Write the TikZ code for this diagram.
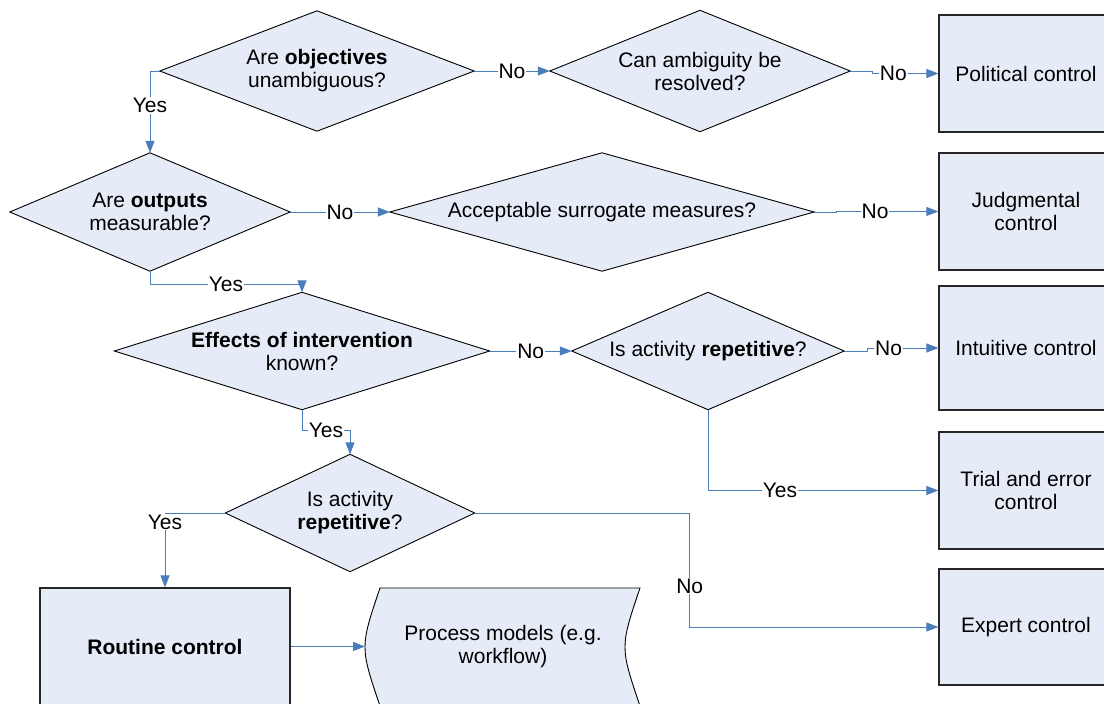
\documentclass[tikz,border=0pt]{standalone}
\usepackage{fontspec}
\setmainfont{Liberation Sans}
\usetikzlibrary{arrows.meta,backgrounds}
\definecolor{shapefill}{RGB}{230,236,247}
\definecolor{linkblue}{RGB}{74,126,187}
\begin{document}
\begin{tikzpicture}[x=1pt,y=-1pt,
  font=\fontsize{21}{23}\selectfont,
  txt/.style={align=center, inner sep=0pt},
  dshape/.style={draw=black, line width=0.9pt, fill=shapefill, line join=miter},
  ctrlbox/.style={draw=black!85, line width=1.2pt, fill=shapefill, align=center, inner sep=0pt, minimum width=174pt},
  link/.style={draw=linkblue, line width=1pt, -{Triangle[length=12pt,width=9pt]}},
  lbl/.style={fill=white, inner sep=1pt, text=black}]
\useasboundingbox (0,0) rectangle (1104,704);
\clip (0,0) rectangle (1104,704);

% decision texts (diamond anchors)
\node[txt, minimum width=314pt, minimum height=120pt] (d1) at (317,71) {Are \textbf{objectives}\\unambiguous?};
\node[txt, minimum width=300pt, minimum height=121pt] (d2) at (700,71) {Can ambiguity be\\resolved?};
\node[txt, minimum width=280pt, minimum height=118pt] (d3) at (150,212) {Are \textbf{outputs}\\measurable?};
\node[txt, minimum width=424pt, minimum height=118pt] (d4) at (602,212) {Acceptable surrogate measures?};
\node[txt, minimum width=375pt, minimum height=117pt] (d5) at (302,351) {\textbf{Effects of intervention}\\known?};
\node[txt, minimum width=272pt, minimum height=117pt] (d6) at (708,351) {Is activity \textbf{repetitive}?};
\node[txt, minimum width=249pt, minimum height=117pt] (d7) at (350,513) {Is activity\\\textbf{repetitive}?};

\begin{scope}[on background layer]
  \foreach \d in {d1,d2,d3,d4,d5,d6,d7}
    \draw[dshape] (\d.west) -- (\d.north) -- (\d.east) -- (\d.south) -- cycle;
  % process models (stored data shape)
  \draw[dshape] (380,588) -- (640,588) .. controls (620,647) .. (640,706)
    -- (380,706) .. controls (360,647) .. (380,588) -- cycle;
\end{scope}

% control boxes
\node[ctrlbox, minimum height=117pt] (pol) at (1026,73.5) {Political control};
\node[ctrlbox, minimum height=117pt] (jud) at (1026,211.5) {Judgmental\\control};
\node[ctrlbox, minimum height=124pt] (int) at (1026,348) {Intuitive control};
\node[ctrlbox, minimum height=117pt] (tri) at (1026,490.5) {Trial and error\\control};
\node[ctrlbox, minimum height=116pt] (exp) at (1026,627) {Expert control};
\node[ctrlbox, minimum width=250pt, minimum height=117pt] (rout) at (165,646.5) {\textbf{Routine control}};
\node[txt] (proc) at (503,646.5) {Process models (e.g.\\workflow)};
\coordinate (procw) at (365,646.5);

% connectors
\draw[link] (d1.east) -- node[lbl]{No} (d2.west);
\draw[link] (d2.east) -- ++(22,0) |- node[lbl,pos=0.66]{No} (pol.west);
\draw[link] (d1.west) -| node[lbl,pos=0.71]{Yes} (d3.north);
\draw[link] (d3.east) -- node[lbl]{No} (d4.west);
\draw[link] (d4.east) -- ++(22,0) |- node[lbl,pos=0.69]{No} (jud.west);
\draw[link] (d3.south) -- ++(0,13) -| node[lbl,pos=0.25]{Yes} (d5.north);
\draw[link] (d5.east) -- node[lbl]{No} (d6.west);
\draw[link] (d6.east) -- ++(23,0) |- node[lbl,pos=0.65]{No} (int.west);
\draw[link] (d6.south) |- node[lbl,pos=0.656]{Yes} (tri.west);
\draw[link] (d5.south) -- ++(0,21) -| node[lbl,pos=0.25]{Yes} (d7.north);
\draw[link] (d7.west) -| node[lbl,pos=0.5,yshift=-9pt]{Yes} (rout.north);
\draw[link] (d7.east) -- ++(215,0) |- node[lbl,pos=0.32]{No} (exp.west);
\draw[link] (rout.east) -- (procw);
\end{tikzpicture}
\end{document}
